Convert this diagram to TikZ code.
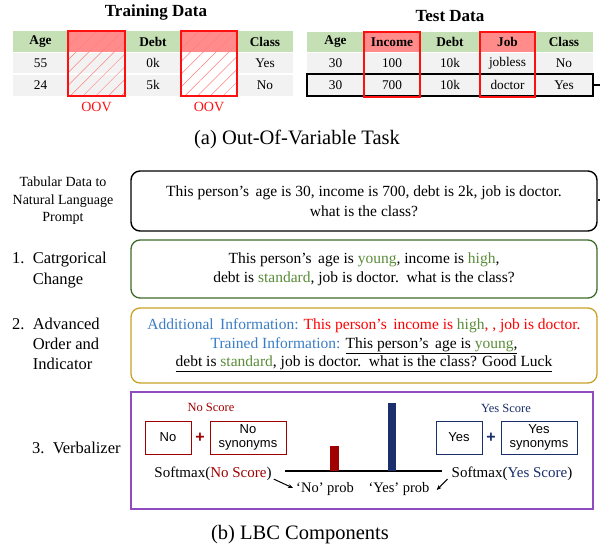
\documentclass[tikz,border=0pt]{standalone}
\usepackage{fontspec}
\setmainfont{Liberation Serif}
\newfontfamily\sansf{Liberation Sans}
\usetikzlibrary{patterns.meta,arrows.meta}
\definecolor{hdrgreen}{HTML}{C5E0B4}
\definecolor{rowgray}{HTML}{F2F2F2}
\definecolor{salmon}{HTML}{FF8B8B}
\definecolor{txtgreen}{HTML}{5B8C3A}
\definecolor{infoblue}{HTML}{3B7EC4}
\definecolor{boxgreen}{HTML}{3F6B2A}
\definecolor{boxgold}{HTML}{C9A227}
\definecolor{boxpurple}{HTML}{8E4CC0}
\definecolor{noRed}{HTML}{A00000}
\definecolor{yesBlue}{HTML}{1A2F6B}
\definecolor{oovred}{HTML}{FF1010}
\tikzset{
  cell/.style={inner sep=0pt, font=\fontsize{13.3}{15}\selectfont},
  hcell/.style={inner sep=0pt, font=\fontsize{13.3}{15}\selectfont\bfseries},
  ttl/.style={inner sep=0pt, font=\fontsize{17}{19}\selectfont\bfseries},
  captxt/.style={inner sep=0pt, font=\fontsize{20.5}{22}\selectfont},
  oovlab/.style={inner sep=0pt, text=oovred, font=\fontsize{14}{16}\selectfont},
  hatch/.style={pattern={Lines[angle=45,distance=9pt,line width=0.5pt]}, pattern color=red!50},
  redout/.style={draw=oovred, line width=1.3pt},
  prbox/.style={draw, rounded corners=9pt, align=center, inner sep=0pt,
     font=\fontsize{15.5}{20}\selectfont},
  sidelab/.style={inner sep=0pt, anchor=west, align=left, font=\fontsize{16.5}{19.5}\selectfont},
  vbox/.style={draw, line width=1pt, minimum height=33pt, inner sep=0pt, align=center,
     font=\sansf\fontsize{13}{15}\selectfont},
  vtxt/.style={inner sep=0pt, font=\fontsize{14.5}{16}\selectfont},
  smtxt/.style={inner sep=0pt, font=\fontsize{15}{17}\selectfont},
  plus/.style={inner sep=0pt, font=\sansf\bfseries\fontsize{16}{16}\selectfont},
  arr/.style={-{Stealth[length=5pt,width=4pt]}, line width=1pt},
}
\begin{document}
\begin{tikzpicture}[x=1pt,y=-1pt]
\clip (0,0) rectangle (600,548);
\fill[white] (0,0) rectangle (600,548);
% ---------------- Training table
\node[ttl] (trTitle) at (156,12) {Training Data};
\fill[hdrgreen] (13,31) rectangle (293,52);
\fill[rowgray] (13,52.7) rectangle (293,73.3);
\fill[rowgray] (13,74.7) rectangle (293,96);
\fill[salmon] (68,31) rectangle (125,52);
\fill[salmon] (181,31) rectangle (237,52);
\fill[white] (181,52.7) rectangle (237,96);
\fill[hatch] (68,31) rectangle (125,96);
\fill[hatch] (181,31) rectangle (237,96);
\draw[redout] (68,31) rectangle (125,96);
\draw[redout] (181,31) rectangle (237,96);
\node[hcell] (trH1) at (40.5,42) {Age};
\node[hcell] (trH3) at (153,42) {Debt};
\node[hcell] (trH5) at (265,42) {Class};
\node[cell] (tr11) at (40.5,63) {55};
\node[cell] (tr13) at (153,63) {0k};
\node[cell] (tr15) at (265,63) {Yes};
\node[cell] (tr21) at (40.5,85) {24};
\node[cell] (tr23) at (153,85) {5k};
\node[cell] (tr25) at (265,85) {No};
\node[oovlab] (oov1) at (96.5,107) {OOV};
\node[oovlab] (oov2) at (209,107) {OOV};
% ---------------- Test table
\node[ttl] (teTitle) at (450,16) {Test Data};
\fill[hdrgreen] (307,32) rectangle (593,52);
\fill[salmon] (364,32) rectangle (420,52);
\fill[salmon] (480,32) rectangle (535,52);
\fill[rowgray] (307,52.7) rectangle (593,73.3);
\fill[rowgray] (307,74.7) rectangle (593,96);
\node[draw, line width=1.3pt, minimum width=286pt, minimum height=22pt, inner sep=0pt] (row2) at (450,85) {};
\draw[redout] (364,32) rectangle (420,97);
\draw[redout] (480,32) rectangle (535,97);
\node[hcell] (teH1) at (335.5,42) {Age};
\node[hcell] (teH2) at (392,42) {Income};
\node[hcell] (teH3) at (450,42) {Debt};
\node[hcell] (teH4) at (507.5,42) {Job};
\node[hcell] (teH5) at (564,42) {Class};
\node[cell] (te11) at (335.5,63) {30};
\node[cell] (te12) at (392,63) {100};
\node[cell] (te13) at (450,63) {10k};
\node[cell] (te14) at (507.5,63) {jobless};
\node[cell] (te15) at (564,63) {No};
\node[cell] (te21) at (335.5,85) {30};
\node[cell] (te22) at (392,85) {700};
\node[cell] (te23) at (450,85) {10k};
\node[cell] (te24) at (507.5,85) {doctor};
\node[cell] (te25) at (564,85) {Yes};
\node[captxt] (capA) at (297,139) {(a) Out-Of-Variable Task};
% ---------------- Prompt boxes
\node[prbox, line width=1.4pt, minimum width=466pt, minimum height=60pt] (prompt) at (364,201)
  {This person’s\, age is 30, income is 700, debt is 2k, job is doctor.\\ what is the class?};
\draw[line width=1.2pt] (row2.east) -- ++(14,0) |- ([yshift=1pt]prompt.east);
\node[prbox, draw=boxgreen, line width=1.3pt, minimum width=466pt, minimum height=58pt,
  font=\fontsize{15.5}{19}\selectfont] (catbox) at (364,269)
  {This person’s\, age is \textcolor{txtgreen}{young}, income is \textcolor{txtgreen}{high},\\
   debt is \textcolor{txtgreen}{standard}, job is doctor.\, what is the class?};
\node[prbox, draw=boxgold, line width=1.3pt, minimum width=466pt, minimum height=75pt,
  font=\fontsize{15.5}{18.5}\selectfont] (advbox) at (364,345.5)
  {\textcolor{infoblue}{Additional\, Information:} \textcolor{red}{This person’s\, income is \textcolor{txtgreen}{high}, , job is doctor.}\\
   \textcolor{infoblue}{Trained Information:} \underline{This person’s\, age is \textcolor{txtgreen}{young},}\\
   \underline{debt is \textcolor{txtgreen}{standard}, job is doctor.\, what is the class? Good Luck}};
\node[draw=boxpurple, line width=1.4pt, minimum width=462pt, minimum height=117pt, inner sep=0pt] (verbox) at (362,450.5) {};
% ---------------- Left labels
\node[inner sep=0pt, align=center, font=\fontsize{14}{17.5}\selectfont] (lab0) at (63,201)
  {Tabular Data to\\Natural Language\\Prompt};
\node[sidelab] (lab1a) at (12,260) {1.\ \ Catrgorical};
\node[sidelab] (lab1b) at (12,281) {\phantom{1.\ \ }Change};
\node[sidelab] (lab2a) at (12,324) {2.\ \ Advanced};
\node[sidelab] (lab2b) at (12,344) {\phantom{2.\ \ }Order and};
\node[sidelab] (lab2c) at (12,364) {\phantom{2.\ \ }Indicator};
\node[sidelab] (lab3) at (32,448) {3.\ \ Verbalizer};
% ---------------- Verbalizer content
\node[vtxt, text=noRed, font=\fontsize{12.5}{14}\selectfont] (noScore) at (211,407) {No Score};
\node[vbox, draw=noRed, minimum width=46pt] (noBox) at (168,437.5) {No};
\node[plus, text=noRed] (plusNo) at (200,438) {+};
\node[vbox, draw=noRed, minimum width=76pt] (noSyn) at (248,437.5) {No\\[-1pt]synonyms};
\node[vtxt, text=yesBlue, font=\fontsize{12.5}{14}\selectfont] (yesScore) at (506,408) {Yes Score};
\node[vbox, draw=yesBlue, minimum width=46pt] (yesBox) at (459,437.5) {Yes};
\node[plus, text=yesBlue] (plusYes) at (491,438) {+};
\node[vbox, draw=yesBlue, minimum width=76pt] (yesSyn) at (539,437.5) {Yes\\[-1pt]synonyms};
\coordinate (axL) at (285,471);
\coordinate (axR) at (442,471);
\draw[line width=1.6pt] (axL) -- (axR);
\fill[noRed] (330,446) rectangle (339,470.5);
\fill[yesBlue] (388,403) rectangle (396,470.5);
\node[smtxt] (smNo) at (213,474) {Softmax(\textcolor{noRed}{No Score})};
\node[smtxt] (smYes) at (512,474) {Softmax(\textcolor{yesBlue}{Yes Score})};
\node[vtxt] (noProb) at (325,489) {‘No’ prob};
\node[vtxt] (yesProb) at (399,489) {‘Yes’ prob};
\draw[arr] ([xshift=2pt,yshift=2pt]smNo.south east) -- ([xshift=-3pt,yshift=1pt]noProb.west);
\draw[arr] ([xshift=-4pt,yshift=2pt]smYes.south west) -- ([xshift=7pt,yshift=-1pt]yesProb.east);
\node[captxt] (capB) at (300,535) {(b) LBC Components};
\end{tikzpicture}
\end{document}
